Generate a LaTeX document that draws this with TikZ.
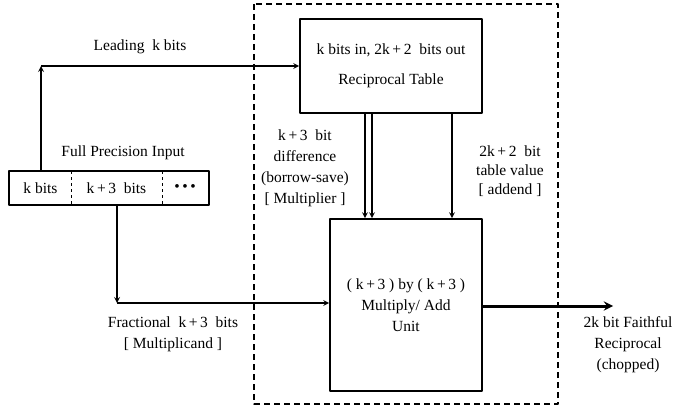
\documentclass[tikz,border=0pt]{standalone}
\usepackage{fontspec}
\setmainfont{Liberation Serif}
\usetikzlibrary{calc}
\tikzset{
  unitbox/.style={draw, line width=1.6pt, inner sep=0pt},
  cellbox/.style={inner sep=0pt, minimum height=32pt},
  lbl/.style={align=center, inner sep=0pt, font=\fontsize{15.5}{21}\selectfont},
}
\begin{document}
\begin{tikzpicture}[x=1pt, y=-1pt, line join=round, >=stealth, line width=1.6pt, font=\fontsize{15.5}{21}\selectfont]
  \useasboundingbox (0,0) rectangle (685,409);
  % outer dashed frame
  \draw[dashed, line width=1.4pt, dash pattern=on 6pt off 4pt] (254,4) rectangle (558,404);
  % boxes
  \node[unitbox, minimum width=182pt, minimum height=94pt, align=center] (table) at (391,66)
    {k bits in, 2k\,+\,2 \ bits out\\[9pt] Reciprocal Table};
  \node[unitbox, minimum width=152pt, minimum height=172pt, align=center] (mult) at (406,305)
    {( k\,+\,3 ) by ( k\,+\,3 )\\ Multiply/ Add\\ Unit};
  % input word
  \node[cellbox, minimum width=61pt] (kb) at (40.5,188) {k bits};
  \node[cellbox, minimum width=91pt] (kb3) at (116.5,188) {k\,+\,3 \ bits};
  \node[cellbox, minimum width=46pt] (dots) at (185,188) {\textbullet\,\textbullet\,\textbullet};
  \draw (kb.north west) rectangle (dots.south east);
  \draw[dashed, line width=1.1pt] (kb.north east) -- (kb.south east);
  \draw[dashed, line width=1.1pt] (kb3.north east) -- (kb3.south east);
  \node[lbl] (fpi) at (123,153) {Full Precision Input};
  % leading bits to table
  \coordinate (lead) at (41,66);
  \draw[->] (kb.north -| lead) -- (lead);
  \draw[->] (lead) -- (table.west);
  \node[lbl] (leadlbl) at (140,47) {Leading \ k bits};
  % fractional bits to multiplier
  \coordinate (frac) at (117,303);
  \draw[->] (kb3.south -| frac) -- (frac);
  \draw[->] (frac) -- (frac -| mult.west);
  \node[lbl] (fraclbl) at (173,334) {Fractional \ k\,+\,3 \ bits\\ {[} Multiplicand {]}};
  % table outputs
  \draw[->] (table.south -| 365,0) -- (mult.north -| 365,0);
  \draw[->] (table.south -| 372,0) -- (mult.north -| 372,0);
  \draw[->] (table.south -| 452,0) -- (mult.north -| 452,0);
  \node[lbl] (difflbl) at (305,168) {k\,+\,3 \ bit\\ difference\\ (borrow-save)\\ {[} Multiplier {]}};
  \node[lbl, font=\fontsize{15.5}{19}\selectfont] (addlbl) at (510,171) {2k\,+\,2 \ bit\\ table value\\ {[} addend {]}};
  % result
  \coordinate (res) at (613,306);
  \draw[->, line width=3pt] (mult.east |- res) -- (res);
  \node[lbl] (reslbl) at (628,345) {2k bit Faithful\\ Reciprocal\\ (chopped)};
\end{tikzpicture}
\end{document}
